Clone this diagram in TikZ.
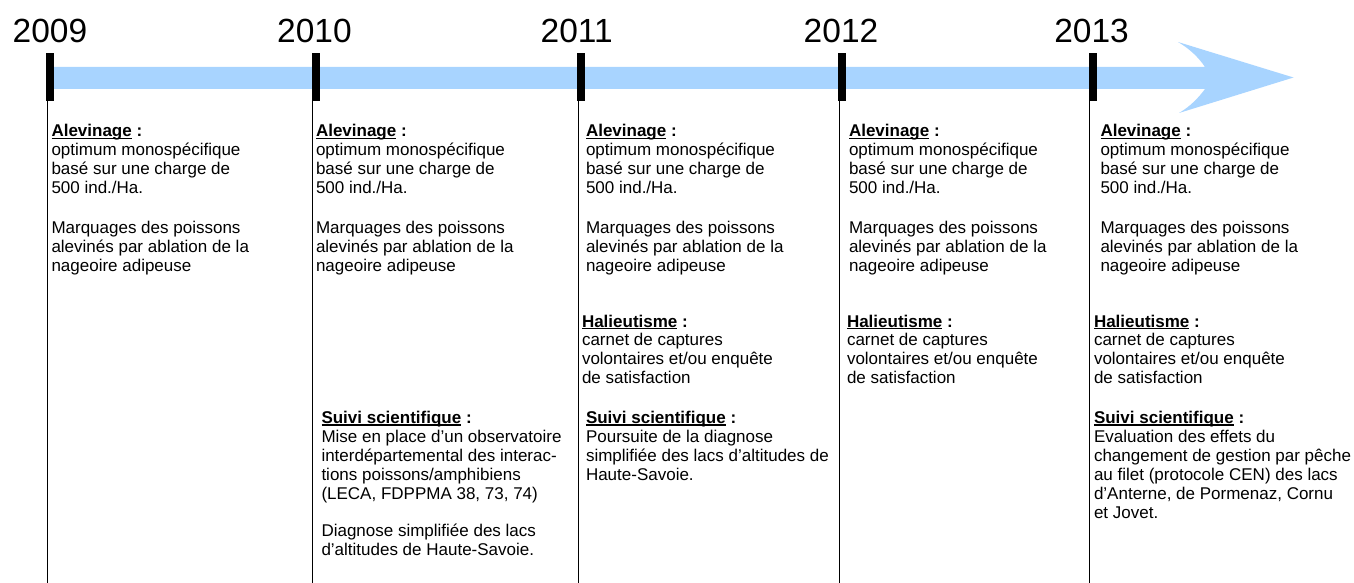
\documentclass[tikz,border=0pt]{standalone}
\usepackage{fontspec}
\setmainfont{Liberation Sans}
\definecolor{timeblue}{RGB}{168,212,255}
\newcommand{\blk}[1]{\begin{tabular}[t]{@{}l@{}}#1\end{tabular}}
\newcommand{\hd}[1]{\setbox0\hbox{\textbf{#1}}\rlap{\rule[-2.3pt]{\wd0}{1.4pt}}\box0\textbf{ :}}
\begin{document}
\begin{tikzpicture}[x=1pt,y=-1pt,
  every node/.style={inner sep=0pt,outer sep=0pt},
  year/.style={font=\fontsize{33.5}{40}\selectfont,anchor=base},
  tickbar/.style={fill=black,draw=none,minimum width=8pt,minimum height=48.5pt},
  txt/.style={font=\fontsize{17}{18.9}\selectfont,anchor=base west},
  stem/.style={line width=1.2pt,black}]
\useasboundingbox (0,0) rectangle (1354,583);
% arrow band
\fill[timeblue] (50,67) -- (1205,67) .. controls (1199,58) and (1190,49) .. (1178,42)
  -- (1293.5,77.5) -- (1179,113) .. controls (1191,106) and (1199,97) .. (1205,89)
  -- (50,89) -- cycle;
% years
\node[year] (y09) at (50,43) {2009};
\node[year] (y10) at (314.5,43) {2010};
\node[year] (y11) at (576.7,43) {2011};
\node[year] (y12) at (841,43) {2012};
\node[year] (y13) at (1091.5,43) {2013};
% ticks
\node[tickbar] (t09) at (50,77.25) {};
\node[tickbar] (t10) at (315.5,77.25) {};
\node[tickbar] (t11) at (581.3,77.25) {};
\node[tickbar] (t12) at (842,77.25) {};
\node[tickbar] (t13) at (1092.5,77.25) {};
% stems
\coordinate (b09) at (47.3,583);
\coordinate (b10) at (312.8,583);
\coordinate (b11) at (578.6,583);
\coordinate (b12) at (839.3,583);
\coordinate (b13) at (1089.8,583);
\draw[stem] ([xshift=1.3pt]t09.south west) -- (b09);
\draw[stem] ([xshift=1.3pt]t10.south west) -- (b10);
\draw[stem] ([xshift=1.3pt]t11.south west) -- (b11);
\draw[stem] ([xshift=1.3pt]t12.south west) -- (b12);
\draw[stem] ([xshift=1.3pt]t13.south west) -- (b13);
% Alevinage blocks
\node[txt] (a09) at (51.5,137) {\blk{\hd{Alevinage}\\optimum monospécifique\\basé sur une charge de\\500 ind./Ha.\\[21pt]Marquages des poissons\\alevinés par ablation de la\\nageoire adipeuse}};
\node[txt] (a10) at (316,137) {\blk{\hd{Alevinage}\\optimum monospécifique\\basé sur une charge de\\500 ind./Ha.\\[21pt]Marquages des poissons\\alevinés par ablation de la\\nageoire adipeuse}};
\node[txt] (a11) at (586,137) {\blk{\hd{Alevinage}\\optimum monospécifique\\basé sur une charge de\\500 ind./Ha.\\[21pt]Marquages des poissons\\alevinés par ablation de la\\nageoire adipeuse}};
\node[txt] (a12) at (849,137) {\blk{\hd{Alevinage}\\optimum monospécifique\\basé sur une charge de\\500 ind./Ha.\\[21pt]Marquages des poissons\\alevinés par ablation de la\\nageoire adipeuse}};
\node[txt] (a13) at (1100.5,137) {\blk{\hd{Alevinage}\\optimum monospécifique\\basé sur une charge de\\500 ind./Ha.\\[21pt]Marquages des poissons\\alevinés par ablation de la\\nageoire adipeuse}};
% Halieutisme blocks
\node[txt] (h11) at (582,327) {\blk{\hd{Halieutisme}\\carnet de captures\\volontaires et/ou enquête\\de satisfaction}};
\node[txt] (h12) at (847,327) {\blk{\hd{Halieutisme}\\carnet de captures\\volontaires et/ou enquête\\de satisfaction}};
\node[txt] (h13) at (1094,327) {\blk{\hd{Halieutisme}\\carnet de captures\\volontaires et/ou enquête\\de satisfaction}};
% Suivi scientifique blocks
\node[txt] (s10) at (321.5,423.5) {\blk{\hd{Suivi scientifique}\\Mise en place d’un observatoire\\interdépartemental des interac-\\tions poissons/amphibiens\\(LECA, FDPPMA 38, 73, 74)\\ \\Diagnose simplifiée des lacs\\d’altitudes de Haute-Savoie.}};
\node[txt] (s11) at (586,423.5) {\blk{\hd{Suivi scientifique}\\Poursuite de la diagnose\\simplifiée des lacs d’altitudes de\\Haute-Savoie.}};
\node[txt] (s13) at (1094,423.5) {\blk{\hd{Suivi scientifique}\\Evaluation des effets du\\changement de gestion par pêche\\au filet (protocole CEN) des lacs\\d’Anterne, de Pormenaz, Cornu\\et Jovet.}};
\end{tikzpicture}
\end{document}
